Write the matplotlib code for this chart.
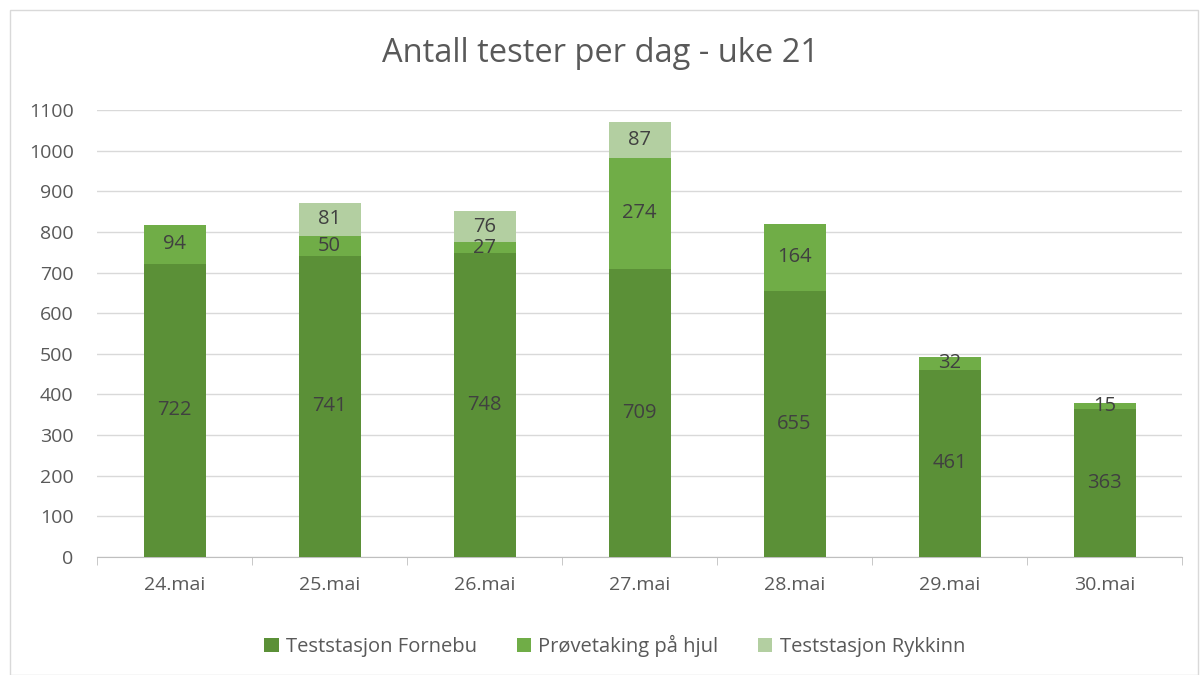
import matplotlib.pyplot as plt
from matplotlib.patches import Rectangle
import numpy as np

days = ['24.mai', '25.mai', '26.mai', '27.mai', '28.mai', '29.mai', '30.mai']
fornebu = [722, 741, 748, 709, 655, 461, 363]
hjul = [94, 50, 27, 274, 164, 32, 15]
rykkinn = [0, 81, 76, 87, 0, 0, 0]
series_names = ['Teststasjon Fornebu', 'Prøvetaking på hjul', 'Teststasjon Rykkinn']
colors = ['#5B9037', '#70AD47', '#B3CFA1']
text_color = '#595959'

plt.rcParams['font.family'] = ['Open Sans', 'DejaVu Sans']

fig = plt.figure(figsize=(12, 6.75), dpi=100)
ax = fig.add_axes([0.081, 0.175, 0.904, 0.662])

x = np.arange(len(days))
bottom = np.zeros(len(days))
for vals, name, col in zip([fornebu, hjul, rykkinn], series_names, colors):
    vals = np.array(vals, dtype=float)
    bars = ax.bar(x, vals, 0.4, bottom=bottom, color=col, label=name, zorder=3)
    for rect, v, b in zip(bars, vals, bottom):
        if v > 0:
            ax.text(rect.get_x() + rect.get_width() / 2, b + v / 2, str(int(v)),
                    ha='center', va='center', fontsize=14.5, color='#404040', zorder=4)
    bottom += vals

ax.set_xlim(-0.5, len(days) - 0.5)
ax.set_ylim(0, 1100)
ax.set_yticks(range(0, 1101, 100))
ax.set_xticks(x)
ax.set_xticklabels(days)
ax.set_xticks(np.arange(-0.5, len(days), 1), minor=True)
ax.tick_params(axis='x', which='major', length=0, pad=14, labelsize=14, colors=text_color)
ax.tick_params(axis='x', which='minor', length=6, color='#BFBFBF')
ax.tick_params(axis='y', length=0, pad=17, labelsize=14, colors=text_color)
ax.grid(axis='y', color='#D9D9D9', linewidth=1, zorder=0)
for s in ['top', 'right', 'left']:
    ax.spines[s].set_visible(False)
ax.spines['bottom'].set_color('#BFBFBF')

fig.suptitle('Antall tester per dag - uke 21', y=0.945, fontsize=23.5, color=text_color)
ax.legend(loc='center', bbox_to_anchor=(0.477, -0.2), ncol=3, frameon=False,
          fontsize=14.5, handlelength=0.7, handleheight=0.7, handletextpad=0.35,
          columnspacing=2.0, labelcolor=text_color)

fig.patches.append(Rectangle((0.008, 0.0), 0.99, 0.985, transform=fig.transFigure,
                             fill=False, edgecolor='#D9D9D9', linewidth=1))

fig.savefig('out.png', dpi=100)
